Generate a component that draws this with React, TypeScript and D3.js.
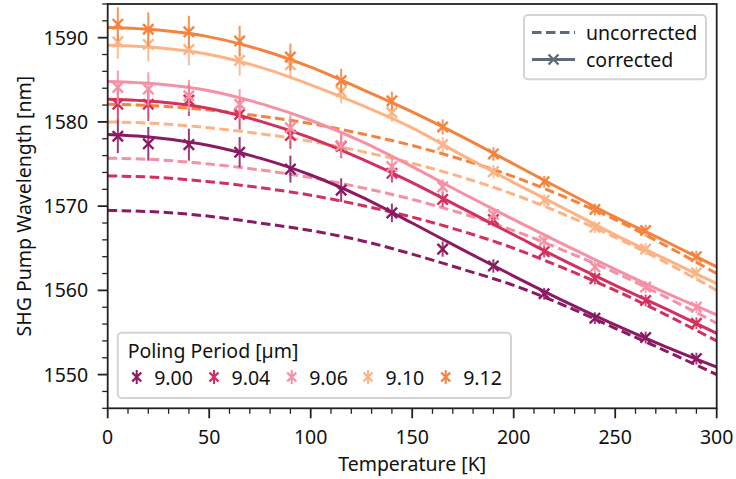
import React from "react";
import * as d3 from "d3";

// ---------- data ----------
const periods = ["9.00", "9.04", "9.06", "9.10", "9.12"];
const colors = ["#8b1a63", "#d3305e", "#f590a5", "#fdb383", "#f5833e"];

const temps = [5, 20, 40, 65, 90, 115, 140, 165, 190, 215, 240, 265, 290];
const errorBars = [2.0, 2.0, 1.9, 1.8, 1.6, 1.4, 1.1, 0.9, 0.8, 0.7, 0.7, 0.7, 0.7];

const measured900 = [1578.3, 1577.4, 1577.3, 1576.4, 1574.4, 1571.9, 1569.2, 1564.9, 1562.9, 1559.6, 1556.7, 1554.4, 1551.9];
const measured904 = [1582.1, 1582.1, 1582.6, 1580.9, 1578.4, 1577.1, 1573.9, 1570.8, 1568.4, 1564.6, 1561.4, 1558.8, 1556.1];
const measured906 = [1584.1, 1583.9, 1583.1, 1582.1, 1579.3, 1577.2, 1574.7, 1572.3, 1569.0, 1565.9, 1562.8, 1560.4, 1558.0];
const measured910 = [1589.5, 1589.2, 1588.6, 1587.3, 1586.8, 1583.6, 1581.1, 1577.3, 1574.1, 1570.7, 1567.5, 1564.9, 1562.1];
const measured912 = [1591.6, 1591.0, 1590.7, 1589.6, 1587.7, 1584.9, 1582.5, 1579.4, 1576.2, 1572.9, 1569.6, 1567.1, 1564.0];

const fitTemps = [0, 25, 50, 75, 100, 125, 150, 175, 200, 225, 250, 275, 300];

const corrected900 = [1578.5, 1578.1, 1577.2, 1575.7, 1573.7, 1571.1, 1568.0, 1564.8, 1561.7, 1558.7, 1555.9, 1553.3, 1550.9];
const corrected904 = [1582.7, 1582.4, 1581.6, 1580.1, 1578.1, 1575.6, 1572.8, 1569.7, 1566.6, 1563.5, 1560.6, 1557.8, 1554.9];
const corrected906 = [1584.8, 1584.5, 1583.7, 1582.2, 1580.2, 1577.7, 1574.7, 1571.5, 1568.4, 1565.4, 1562.5, 1559.7, 1557.1];
const corrected910 = [1589.1, 1588.8, 1588.0, 1586.5, 1584.4, 1582.0, 1579.3, 1576.0, 1572.8, 1569.7, 1566.6, 1563.7, 1560.8];
const corrected912 = [1591.2, 1590.9, 1590.1, 1588.6, 1586.5, 1583.9, 1581.2, 1578.2, 1575.0, 1571.8, 1568.7, 1565.8, 1562.8];

const uncorrected900 = [1569.5, 1569.3, 1568.8, 1568.0, 1567.1, 1565.9, 1564.3, 1562.5, 1560.6, 1558.2, 1555.5, 1552.8, 1550.0];
const uncorrected904 = [1573.6, 1573.4, 1572.9, 1572.2, 1571.3, 1570.1, 1568.7, 1567.0, 1565.0, 1562.6, 1560.0, 1557.1, 1554.0];
const uncorrected906 = [1575.7, 1575.5, 1575.0, 1574.3, 1573.4, 1572.2, 1570.8, 1569.1, 1567.1, 1564.7, 1562.1, 1559.2, 1556.1];
const uncorrected910 = [1580.0, 1579.8, 1579.3, 1578.6, 1577.7, 1576.5, 1575.1, 1573.4, 1571.4, 1569.0, 1566.3, 1563.3, 1560.0];
const uncorrected912 = [1582.1, 1581.9, 1581.4, 1580.7, 1579.8, 1578.6, 1577.2, 1575.5, 1573.5, 1571.1, 1568.4, 1565.3, 1562.0];

const measured = [measured900, measured904, measured906, measured910, measured912];
const corrected = [corrected900, corrected904, corrected906, corrected910, corrected912];
const uncorrected = [uncorrected900, uncorrected904, uncorrected906, uncorrected910, uncorrected912];

const xTicks = [0, 50, 100, 150, 200, 250, 300];
const yTicks = [1550, 1560, 1570, 1580, 1590];

// ---------- layout ----------
const W = 736;
const H = 479;
const left = 107.7;
const right = 716.7;
const top = 4;
const bottom = 408.3;
const FONT = "'Noto Sans', 'Open Sans', sans-serif";
const FS = 19.5;

export default function App() {
  const x = d3.scaleLinear().domain([0, 300]).range([left, right]);
  const y = d3.scaleLinear().domain([1546, 1594]).range([bottom, top]);

  const line = d3
    .line<[number, number]>()
    .x((d) => x(d[0]))
    .y((d) => y(d[1]))
    .curve(d3.curveMonotoneX);

  const xMinor = d3.range(0, 301, 10).filter((v) => v % 50 !== 0);
  const yMinor = d3.range(1546, 1595, 2).filter((v) => v % 10 !== 0);

  const xMark = (cx: number, cy: number, s: number) =>
    `M${cx - s},${cy - s}L${cx + s},${cy + s}M${cx - s},${cy + s}L${cx + s},${cy - s}`;

  const legendGray = "#5d6b7b";

  return (
    <svg
      width={W}
      height={H}
      style={{ position: "absolute", left: 0, top: 0, background: "#fff" }}
      fontFamily={FONT}
    >
      <defs>
        <clipPath id="plot">
          <rect x={left} y={top} width={right - left} height={bottom - top} />
        </clipPath>
      </defs>
      <rect x={0} y={0} width={W} height={H} fill="#fff" />

      <g clipPath="url(#plot)">
        {uncorrected.map((vals, i) => (
          <path
            key={"u" + i}
            d={line(fitTemps.map((t, j) => [t, vals[j]] as [number, number])) || ""}
            fill="none"
            stroke={colors[i]}
            strokeWidth={3}
            strokeDasharray="9.5,4.5"
          />
        ))}
        {corrected.map((vals, i) => (
          <path
            key={"c" + i}
            d={line(fitTemps.map((t, j) => [t, vals[j]] as [number, number])) || ""}
            fill="none"
            stroke={colors[i]}
            strokeWidth={3}
          />
        ))}
        {measured.map((vals, i) => (
          <g key={"m" + i} stroke={colors[i]}>
            {vals.map((v, j) => (
              <g key={j}>
                <line
                  x1={x(temps[j])}
                  x2={x(temps[j])}
                  y1={y(v - errorBars[j])}
                  y2={y(v + errorBars[j])}
                  strokeWidth={2}
                  opacity={0.85}
                />
                <path d={xMark(x(temps[j]), y(v), 5.2)} strokeWidth={2.4} fill="none" />
              </g>
            ))}
          </g>
        ))}
      </g>

      {/* frame */}
      <rect
        x={left}
        y={top}
        width={right - left}
        height={bottom - top}
        fill="none"
        stroke="#222"
        strokeWidth={1.8}
      />

      {/* x ticks */}
      {xTicks.map((t) => (
        <g key={"xt" + t}>
          <line x1={x(t)} x2={x(t)} y1={bottom} y2={bottom + 10} stroke="#222" strokeWidth={1.8} />
          <text x={x(t)} y={bottom + 36} textAnchor="middle" fontSize={FS} fill="#111">
            {t}
          </text>
        </g>
      ))}
      {xMinor.map((t) => (
        <line key={"xm" + t} x1={x(t)} x2={x(t)} y1={bottom} y2={bottom + 5.5} stroke="#222" strokeWidth={1.3} />
      ))}
      {/* y ticks */}
      {yTicks.map((t) => (
        <g key={"yt" + t}>
          <line x1={left - 10} x2={left} y1={y(t)} y2={y(t)} stroke="#222" strokeWidth={1.8} />
          <text x={left - 19.5} y={y(t) + 7} textAnchor="end" fontSize={FS} fill="#111">
            {t}
          </text>
        </g>
      ))}
      {yMinor.map((t) => (
        <line key={"ym" + t} x1={left - 5.5} x2={left} y1={y(t)} y2={y(t)} stroke="#222" strokeWidth={1.3} />
      ))}

      {/* axis labels */}
      <text x={(left + right) / 2} y={471} textAnchor="middle" fontSize={FS} fill="#111">
        Temperature [K]
      </text>
      <text
        transform={`translate(31,${(top + bottom) / 2}) rotate(-90)`}
        textAnchor="middle"
        fontSize={FS}
        fill="#111"
      >
        SHG Pump Wavelength [nm]
      </text>

      {/* top-right legend */}
      <rect x={524} y={15} width={182} height={64.3} rx={4} fill="#fff" fillOpacity={0.85} stroke="#d4d4d4" strokeWidth={2} />
      <line x1={532} x2={575} y1={32.5} y2={32.5} stroke={legendGray} strokeWidth={3} strokeDasharray="9.5,4.5" />
      <text x={586} y={39.5} fontSize={FS} fill="#111">uncorrected</text>
      <line x1={532} x2={575} y1={59.5} y2={59.5} stroke={legendGray} strokeWidth={3} />
      <path d={xMark(553.5, 59.5, 5)} stroke={legendGray} strokeWidth={2.4} fill="none" />
      <text x={586} y={66.5} fontSize={FS} fill="#111">corrected</text>

      {/* bottom-left legend */}
      <rect x={117.7} y={332.7} width={393.3} height={65.3} rx={4} fill="#fff" fillOpacity={0.85} stroke="#d4d4d4" strokeWidth={2} />
      <text x={127.7} y={357.5} fontSize={FS} fill="#111">
        Poling Period [µm]
      </text>
      {periods.map((p, i) => {
        const mx = [136.7, 214, 291.7, 368, 445.7][i];
        return (
          <g key={"lg" + p}>
            <line x1={mx} x2={mx} y1={370} y2={384} stroke={colors[i]} strokeWidth={2} />
            <path d={xMark(mx, 377, 4.5)} stroke={colors[i]} strokeWidth={2.4} fill="none" />
            <text x={mx + 17.5} y={384.5} fontSize={FS} fill="#111">
              {p}
            </text>
          </g>
        );
      })}
    </svg>
  );
}
